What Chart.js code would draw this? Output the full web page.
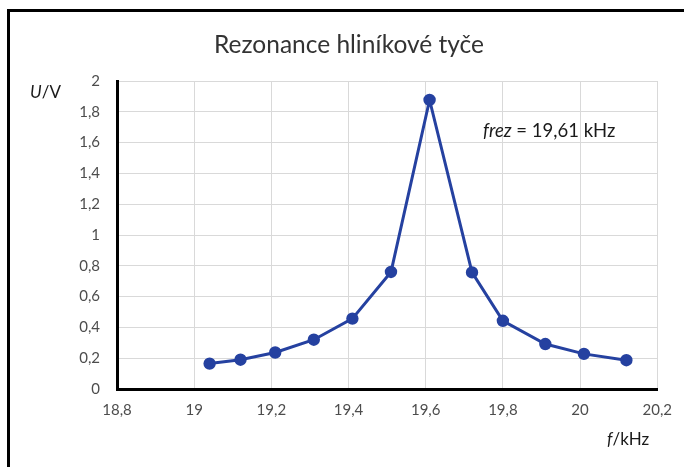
<!DOCTYPE html>
<html lang="cs">
<head>
  <meta charset="UTF-8">
  <title>Rezonance hliníkové tyče</title>
  <script src="https://cdn.jsdelivr.net/npm/chart.js"></script>
  <style>
    body { margin: 0; background: #fff; }
    #wrap { position: relative; width: 684px; height: 467px; overflow: hidden; }
    #frame { position: absolute; left: 7px; top: 9px; width: 720px; height: 520px;
             border-top: 3px solid #000; border-left: 3px solid #000; }
    canvas { position: absolute; left: 0; top: 0; }
  </style>
</head>
<body>
  <div id="wrap">
    <div id="frame"></div>
    <canvas id="chart" width="684" height="467"></canvas>
  </div>

  <script>
    // measured resonance curve (f in kHz, U in V)
    const freq = [19.04, 19.12, 19.21, 19.31, 19.41, 19.51, 19.61, 19.72, 19.80, 19.91, 20.01, 20.12];
    const voltage = [0.165, 0.19, 0.237, 0.32, 0.457, 0.76, 1.877, 0.757, 0.443, 0.292, 0.228, 0.187];

    const xTickLabels = ['18,8', '19', '19,2', '19,4', '19,6', '19,8', '20', '20,2'];
    const yTickLabels = ['0', '0,2', '0,4', '0,6', '0,8', '1', '1,2', '1,4', '1,6', '1,8', '2'];

    const toNum = s => parseFloat(s.replace(',', '.'));
    const tickFont = { family: 'Lato', size: 15 };

    // titles and the note about the resonance frequency
    const textPlugin = {
      id: 'texts',
      afterDraw(chart) {
        const ctx = chart.ctx;
        ctx.save();
        ctx.textBaseline = 'alphabetic';

        ctx.fillStyle = '#333';
        ctx.textAlign = 'center';
        ctx.font = '24.5px Lato';
        ctx.fillText('Rezonance hliníkové tyče', 349, 53);

        ctx.textAlign = 'left';
        ctx.fillStyle = '#1a1a1a';
        function mixed(x, y, parts, size) {
          parts.forEach(p => {
            ctx.font = (p.italic ? 'italic ' : '') + size + 'px Lato';
            ctx.fillText(p.t, x, y);
            x += ctx.measureText(p.t).width;
          });
        }
        mixed(30, 98, [{ t: 'U', italic: true }, { t: '/V' }], 17);
        mixed(607, 445, [{ t: 'f', italic: true }, { t: '/kHz' }], 17);
        mixed(483, 137, [{ t: 'frez', italic: true }, { t: ' = 19,61 kHz' }], 18.5);
        ctx.restore();
      }
    };

    new Chart(document.getElementById('chart'), {
      type: 'line',
      data: {
        datasets: [{
          data: freq.map((f, i) => ({ x: f, y: voltage[i] })),
          borderColor: '#2541a0',
          backgroundColor: '#2541a0',
          borderWidth: 3,
          pointRadius: 4.7,
          pointHoverRadius: 4.7,
          tension: 0,
          clip: false
        }]
      },
      options: {
        responsive: false,
        animation: false,
        layout: { padding: { top: 81, right: 23, left: 0, bottom: 0 } },
        plugins: { legend: { display: false }, tooltip: { enabled: false } },
        scales: {
          x: {
            type: 'linear',
            min: 18.8,
            max: 20.2,
            afterBuildTicks: s => { s.ticks = xTickLabels.map(l => ({ value: toNum(l) })); },
            afterFit: s => { s.height = 78; },
            grid: { color: '#d9d9d9', lineWidth: 1, drawTicks: false },
            border: { color: '#000', width: 3 },
            ticks: {
              padding: 12, color: '#4d4d4d', font: tickFont,
              autoSkip: false, maxRotation: 0,
              callback: (v, i) => xTickLabels[i]
            }
          },
          y: {
            min: 0,
            max: 2,
            afterBuildTicks: s => { s.ticks = yTickLabels.map(l => ({ value: toNum(l) })); },
            afterFit: s => { s.width = 117; },
            grid: { color: '#d9d9d9', lineWidth: 1, drawTicks: false },
            border: { color: '#000', width: 3 },
            ticks: {
              padding: 17, color: '#4d4d4d', font: tickFont,
              callback: (v, i) => yTickLabels[i]
            }
          }
        }
      },
      plugins: [textPlugin]
    });
  </script>
</body>
</html>
